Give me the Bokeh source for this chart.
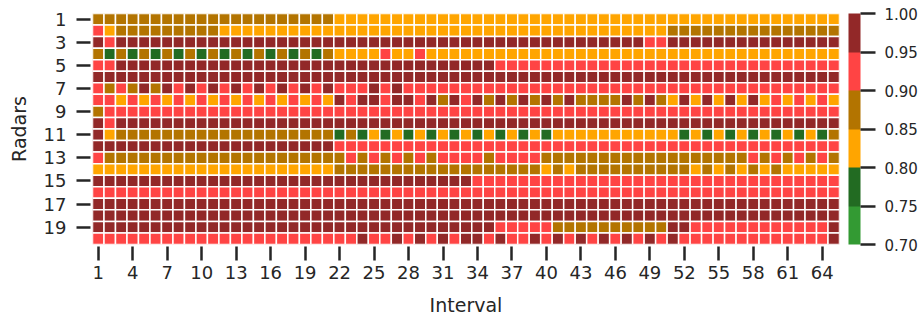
from bokeh.plotting import figure
from bokeh.models import (ColumnDataSource, LinearColorMapper, ColorBar, FixedTicker,
                          Range1d, PrintfTickFormatter)
from bokeh.embed import file_html
from bokeh.resources import INLINE

# Colour bands of the colour bar (0.70 .. 1.00, step 0.05)
band_levels = [0.70, 0.75, 0.80, 0.85, 0.90, 0.95, 1.00]
band_colors = ["#339a33", "#226b22", "#ffa500", "#b37400", "#ff4444", "#922828"]
code_value = {"L": 0.725, "K": 0.775, "O": 0.825, "G": 0.875, "R": 0.925, "D": 0.975}

intervals = list(range(1, 66))
radars = list(range(1, 21))
x_ticks = list(range(1, 65, 3))
y_ticks = list(range(1, 20, 2))

radar_rows = [
    "G" * 21 + "O" * 44,                                                   # 1
    "RO" + "G" * 9 + "O" * 39 + "G" * 15,                                  # 2
    "DR" + "D" * 46 + "RR" + "D" * 15,                                     # 3
    "GKGKGKGKGKGKGKGKGKGKG" + "OOOOROOR" + "O" * 36,                       # 4
    "RR" + "D" * 33 + "R" * 30,                                            # 5
    "D" * 65,                                                              # 6
    "RGRGDGDRDRDRDRDRD" + "RDRDRRRDRDRRRRRR" + "R" * 32,                   # 7
    "RRORORORORORORORO" + "RORODRDDRDDRDGDR" + "DGDGDGDGDGGGGDG" + "D"
    + "GODODODODORORORO",                                                  # 8
    "G" + "R" * 64,                                                        # 9
    "DR" + "D" * 63,                                                       # 10
    "DO" + "G" * 19 + "KGKOKOKOKOKOKOKOKOK" + "O" * 11 + "KOKOKOKOKOKOK" + "G",  # 11
    "D" * 21 + "R" * 44,                                                   # 12
    "R" + "G" * 21 + "RGRGRGRGRRRR" + "G" + "RRRR" + "G" * 18 + "RGRGRGRG",  # 13
    "O" * 21 + "G" * 18 + "OGO" + "G" * 10 + "OGOGOGOG" + "O" * 5,         # 14
    "D" * 33 + "R" * 32,                                                   # 15
    "R" * 65,                                                              # 16
    "D" * 65,                                                              # 17
    "D" * 65,                                                              # 18
    "D" * 35 + "R" * 5 + "G" * 10 + "DD" + "R" * 12 + "D",                 # 19
    "R" * 23 + "DRRDRDRDRDDRDRRDRDRDRDRDRDRD" + "R" * 13 + "D",            # 20
]

xs, ys, vals = [], [], []
for r, row in zip(radars, radar_rows):
    for c, ch in zip(intervals, row):
        xs.append(c)
        ys.append(r)
        vals.append(code_value[ch])

src = ColumnDataSource(dict(x=xs, y=ys, v=vals))
mapper = LinearColorMapper(palette=band_colors, low=0.70, high=1.00)

FONT = "DejaVu Sans"
TXT = "#262626"

p = figure(frame_width=747, frame_height=231,
           x_range=Range1d(0.5, 65.5), y_range=Range1d(20.5, 0.5),
           output_backend="svg", toolbar_location=None,
           min_border_left=92, min_border_top=13, min_border_bottom=68,
           min_border_right=82)
p.outline_line_color = None
p.grid.visible = False

p.rect(x="x", y="y", width=1, height=1, source=src,
       fill_color={"field": "v", "transform": mapper},
       line_color="white", line_width=1.5)

for ax in (p.xaxis[0], p.yaxis[0]):
    ax.axis_line_color = None
    ax.major_tick_in = -2
    ax.major_tick_out = 16
    ax.major_tick_line_width = 2.5
    ax.major_tick_line_color = TXT
    ax.minor_tick_line_color = None
    ax.major_label_text_font = FONT
    ax.major_label_text_font_size = "18px"
    ax.major_label_text_color = TXT
    ax.axis_label_text_font = FONT
    ax.axis_label_text_font_size = "19px"
    ax.axis_label_text_font_style = "normal"
    ax.axis_label_text_color = TXT

p.xaxis.ticker = FixedTicker(ticks=x_ticks)
p.yaxis.ticker = FixedTicker(ticks=y_ticks)
p.xaxis.axis_label = "Interval"
p.yaxis.axis_label = "Radars"
p.xaxis.major_label_standoff = 5
p.yaxis.major_label_standoff = 10
p.xaxis.axis_label_standoff = 12
p.yaxis.axis_label_standoff = 11

cb = ColorBar(color_mapper=mapper, ticker=FixedTicker(ticks=band_levels),
              formatter=PrintfTickFormatter(format="%.2f"),
              location=(756, 0), width=12, height=231, padding=0, margin=0,
              major_tick_in=0, major_tick_out=15,
              major_tick_line_color=TXT, major_tick_line_width=2.5,
              label_standoff=9, bar_line_color=None, border_line_color=None,
              background_fill_color=None,
              major_label_text_font=FONT, major_label_text_font_size="15px",
              major_label_text_color=TXT)
p.add_layout(cb)

open("out.html", "w").write(file_html(p, INLINE))
